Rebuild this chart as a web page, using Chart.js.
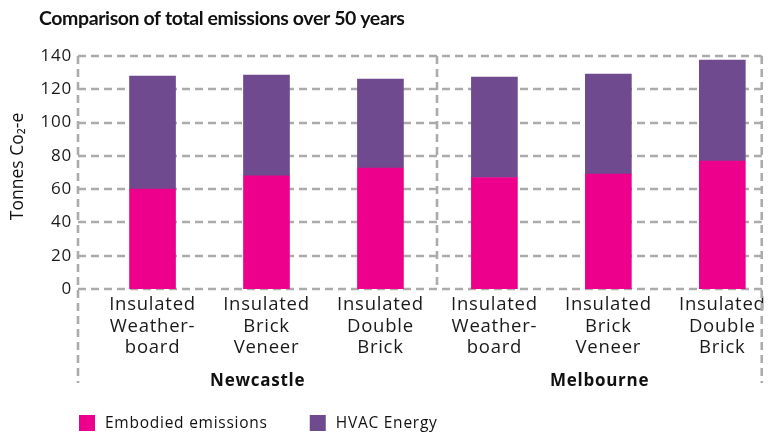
<!DOCTYPE html>
<html>
<head>
<meta charset="utf-8">
<script src="https://cdn.jsdelivr.net/npm/chart.js@4/dist/chart.umd.min.js"></script>
<style>
  html, body { margin: 0; padding: 0; background: #fff; }
  #wrap { width: 771px; height: 434px; position: relative; }
</style>
</head>
<body>
<div id="wrap"><canvas id="c" width="771" height="434"></canvas></div>
<script>
// ---- data ----
const categories = [
  ["Insulated", "Weather-", "board"],
  ["Insulated", "Brick", "Veneer"],
  ["Insulated", "Double", "Brick"],
  ["Insulated", "Weather-", "board"],
  ["Insulated", "Brick", "Veneer"],
  ["Insulated", "Double", "Brick"]
];
const groups = ["Newcastle", "Melbourne"];
const embodied = [60, 68, 72.7, 67, 69, 76.8];
const hvac = [68, 60.5, 53.4, 60.3, 60.1, 60.8];
const yTicks = [0, 20, 40, 60, 80, 100, 120, 140];
const seriesNames = ["Embodied emissions", "HVAC Energy"];
const titleText = "Comparison of total emissions over 50 years";
const yTitle = "Tonnes Co\u2082-e";

const FONT = "'Open Sans', 'Noto Sans', sans-serif";
const TITLE_FONT = "Lato, 'Open Sans', sans-serif";
const PINK = "#EC008C";
const PURPLE = "#6F4A8E";
const GRID = "#ABABAB";
const SPACING = "0.75px";

const framePlugin = {
  id: 'frame',
  beforeUpdate(chart) { chart.ctx.letterSpacing = SPACING; },
  beforeLayout(chart) { chart.ctx.letterSpacing = SPACING; },
  beforeDraw(chart) { chart.ctx.letterSpacing = SPACING; },
  beforeDatasetsDraw(chart) {
    const ctx = chart.ctx;
    const ca = chart.chartArea;
    const y = chart.scales.y, x = chart.scales.x;
    ctx.save();
    ctx.strokeStyle = GRID;
    ctx.lineWidth = 2.6;
    ctx.setLineDash([8, 5]);
    yTicks.forEach(v => {
      const py = Math.round(y.getPixelForValue(v));
      ctx.beginPath();
      ctx.moveTo(ca.left, py);
      ctx.lineTo(ca.right, py);
      ctx.stroke();
    });
    const bottomExt = 383;
    ctx.beginPath(); ctx.moveTo(ca.left, ca.top); ctx.lineTo(ca.left, bottomExt); ctx.stroke();
    ctx.beginPath(); ctx.moveTo(ca.right, ca.top); ctx.lineTo(ca.right, bottomExt); ctx.stroke();
    const sx = Math.round(x.getPixelForValue(2.5));
    ctx.beginPath(); ctx.moveTo(sx, ca.top); ctx.lineTo(sx, ca.bottom); ctx.stroke();
    ctx.restore();
  },
  afterDraw(chart) {
    const ctx = chart.ctx;
    const ca = chart.chartArea;
    const x = chart.scales.x;
    ctx.save();
    // title
    ctx.letterSpacing = "-0.4px";
    ctx.fillStyle = "#111";
    ctx.font = "bold 19.5px " + TITLE_FONT;
    ctx.textBaseline = "middle";
    ctx.textAlign = "left";
    ctx.fillText(titleText, 39, 19);
    // y axis title
    ctx.letterSpacing = "0px";
    ctx.save();
    ctx.translate(18, (ca.top + ca.bottom) / 2 - 6);
    ctx.rotate(-Math.PI / 2);
    ctx.textAlign = "center";
    ctx.font = "17.5px " + FONT;
    ctx.fillText(yTitle, 0, 0);
    ctx.restore();
    // group labels
    ctx.letterSpacing = SPACING;
    const sx = x.getPixelForValue(2.5);
    ctx.font = "bold 17px " + FONT;
    ctx.textAlign = "center";
    ctx.fillStyle = "#111";
    ctx.fillText(groups[0], (ca.left + sx) / 2, 381);
    ctx.fillText(groups[1], (sx + ca.right) / 2, 381);
    // legend
    ctx.font = "15.5px " + FONT;
    ctx.textAlign = "left";
    let lx = 79;
    chart.data.datasets.forEach((ds, i) => {
      ctx.fillStyle = ds.backgroundColor;
      ctx.fillRect(lx, 415, 16, 16);
      ctx.fillStyle = "#111";
      ctx.fillText(ds.label, lx + 26, 424);
      lx += 26 + ctx.measureText(ds.label).width + 42;
    });
    ctx.restore();
  }
};

new Chart(document.getElementById('c'), {
  type: 'bar',
  data: {
    datasets: [
      { label: seriesNames[0], data: embodied.map((v, i) => ({x: i, y: v})), backgroundColor: PINK, barThickness: 46, borderWidth: 0 },
      { label: seriesNames[1], data: hvac.map((v, i) => ({x: i, y: v})), backgroundColor: PURPLE, barThickness: 46, borderWidth: 0 }
    ]
  },
  options: {
    responsive: false,
    animation: false,
    layout: { padding: { left: 6, right: 6, top: 56, bottom: 45 } },
    plugins: {
      legend: { display: false },
      title: { display: false },
      tooltip: { enabled: false }
    },
    scales: {
      x: {
        type: 'linear',
        stacked: true,
        offset: false,
        min: -0.654,
        max: 5.346,
        grid: { display: false, drawTicks: false, offset: false },
        border: { display: false },
        afterBuildTicks: s => { s.ticks = categories.map((_, i) => ({ value: i })); },
        afterFit: s => { s.height = 100; },
        ticks: {
          autoSkip: false,
          maxRotation: 0,
          padding: 5,
          color: "#1a1a1a",
          font: { family: FONT, size: 18.5, lineHeight: 1.17 },
          callback: v => categories[v]
        }
      },
      y: {
        stacked: true,
        min: 0,
        max: 140,
        grid: { display: false, drawTicks: false },
        border: { display: false },
        afterBuildTicks: s => { s.ticks = yTicks.map(v => ({ value: v })); },
        afterFit: s => { s.width = 72; },
        ticks: {
          padding: 6,
          color: "#1a1a1a",
          font: { family: FONT, size: 17 }
        },
        title: { display: false }
      }
    }
  },
  plugins: [framePlugin]
});
</script>
</body>
</html>
